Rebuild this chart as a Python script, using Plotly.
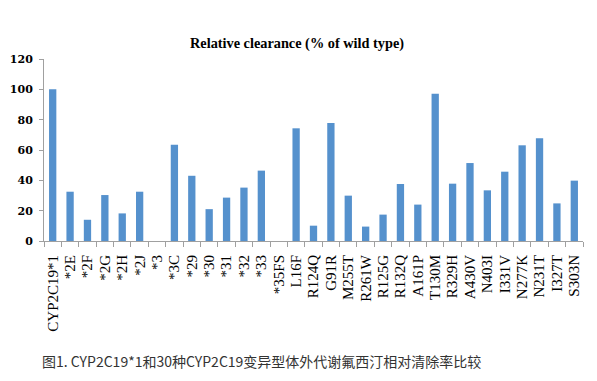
import plotly.graph_objects as go

categories = ["CYP2C19*1", "*2E", "*2F", "*2G", "*2H", "*2J", "*3", "*3C", "*29", "*30",
              "*31", "*32", "*33", "*35FS", "L16F", "R124Q", "G91R", "M255T", "R261W",
              "R125G", "R132Q", "A161P", "T130M", "R329H", "A430V", "N403I", "I331V",
              "N277K", "N231T", "I327T", "S303N"]
clearance = [100, 32.5, 14, 30.3, 18.2, 32.5, 0, 63.5, 43, 21,
             28.6, 35.2, 46.4, 0, 74.3, 10.1, 77.8, 29.9, 9.5,
             17.4, 37.6, 24, 97.1, 37.8, 51.4, 33.4, 45.7,
             63.1, 67.7, 24.8, 39.8]
y_ticks = [0, 20, 40, 60, 80, 100, 120]

title_text = "Relative clearance (% of wild type)"
caption_text = "图1. CYP2C19*1和30种CYP2C19变异型体外代谢氟西汀相对清除率比较"

fig = go.Figure()
fig.add_trace(go.Bar(
    x=categories, y=clearance,
    marker=dict(color="#5591cd", line=dict(width=0)),
))

# page body has an 8px margin; figure sized to fit the 597x381 window
fig.update_layout(
    width=589, height=373,
    margin=dict(l=36, r=14, t=51, b=140, autoexpand=False),
    paper_bgcolor="white", plot_bgcolor="white",
    bargap=0.58, showlegend=False,
)
fig.update_xaxes(
    type="category", tickangle=-90, tickson="boundaries",
    tickmode="array", tickvals=categories, ticktext=categories,
    ticks="outside", ticklen=5, tickcolor="#a0a0a0",
    showline=True, linecolor="#a0a0a0", linewidth=1,
    showgrid=False, automargin=False, ticklabelstandoff=7,
    tickfont=dict(family="Liberation Serif", size=15, color="black"),
)
fig.update_yaxes(
    range=[0, 120], tickvals=y_ticks,
    ticks="outside", ticklen=4, tickcolor="#a0a0a0",
    showline=True, linecolor="#a0a0a0", linewidth=1,
    showgrid=False, zeroline=False, automargin=False, ticklabelstandoff=4,
    tickfont=dict(family="DejaVu Serif", size=11, color="black", weight="bold"),
)

fig.add_annotation(
    text="<b>" + title_text + "</b>", xref="paper", yref="paper",
    x=0.469, y=1.083, xanchor="center", yanchor="middle", showarrow=False,
    font=dict(family="Liberation Serif", size=14.3, color="black"),
)
fig.add_annotation(
    text=caption_text, xref="paper", yref="paper",
    x=0.404, y=-0.659, xanchor="center", yanchor="middle", showarrow=False,
    font=dict(family="Noto Sans CJK SC", size=14, color="#333333"),
)

fig.write_html("out.html")
